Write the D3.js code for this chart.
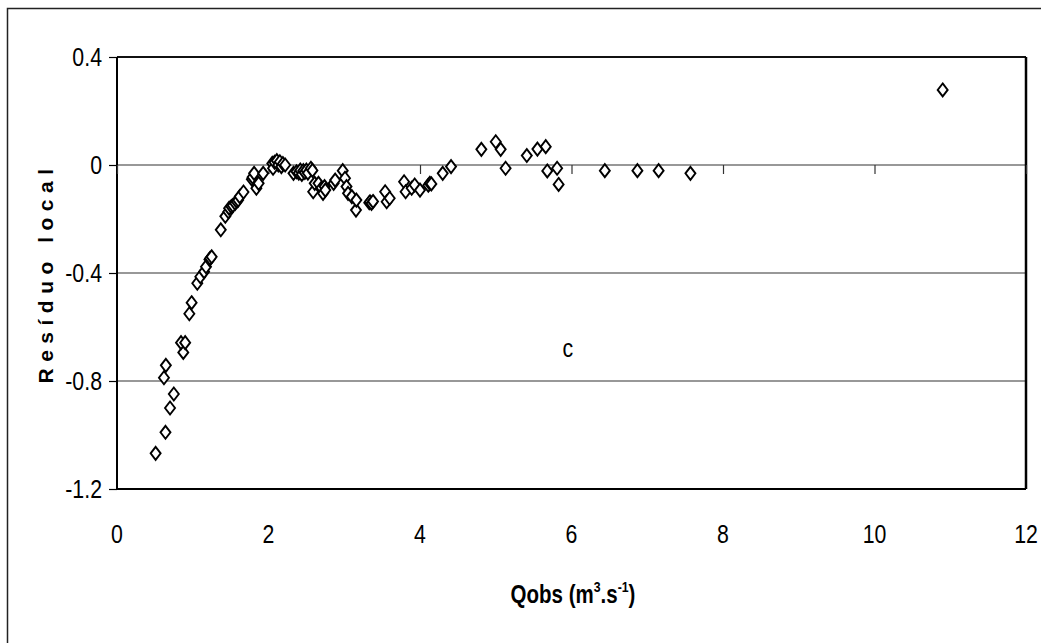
<!DOCTYPE html>
<html>
<head>
<meta charset="utf-8">
<script src="https://cdn.jsdelivr.net/npm/d3@7"></script>
<style>
  html, body { margin: 0; padding: 0; background: #fff; }
  svg { display: block; }
  .narrow { font-family: "Liberation Sans", Arial, sans-serif; font-size: 26px; fill: #000; }
</style>
</head>
<body>
<svg id="chart" width="1041" height="643"></svg>
<script>
// Observed discharge (m3/s) and local residual
const qobs = [
  0.51, 0.64, 0.70, 0.75, 0.62, 0.645, 0.875, 0.845, 0.90, 0.955,
  0.985, 1.06, 1.10, 1.15, 1.175, 1.22, 1.23, 1.25, 1.37, 1.43,
  1.47, 1.48, 1.51, 1.53, 1.56, 1.58, 1.60, 1.62, 1.67, 1.78,
  1.79, 1.81, 1.84, 1.87, 1.93, 2.05, 2.06, 2.08, 2.11, 2.13,
  2.15, 2.17, 2.19, 2.22, 2.33, 2.37, 2.40, 2.42, 2.44, 2.46,
  2.48, 2.50, 2.52, 2.56, 2.58, 2.59, 2.61, 2.66, 2.70, 2.72,
  2.74, 2.75, 2.86, 2.88, 2.98, 3.01, 3.03, 3.05, 3.10, 3.155,
  3.16, 3.33, 3.34, 3.36, 3.38, 3.54, 3.56, 3.60, 3.79, 3.81,
  3.89, 3.93, 4.00, 4.11, 4.13, 4.15, 4.30, 4.41, 4.81, 5.00,
  5.065, 5.13, 5.41, 5.55, 5.66, 5.68, 5.81, 5.83, 6.44, 6.87,
  7.15, 7.57, 10.9
];
const residuo = [
  -1.068, -0.99, -0.90, -0.848, -0.788, -0.742, -0.694, -0.658, -0.658, -0.551,
  -0.51, -0.438, -0.414, -0.395, -0.377, -0.35, -0.346, -0.34, -0.24, -0.19,
  -0.173, -0.16, -0.154, -0.15, -0.142, -0.135, -0.13, -0.117, -0.10, -0.053,
  -0.045, -0.031, -0.086, -0.068, -0.031, 0.006, -0.012, 0.01, 0.016, 0.0,
  0.012, -0.006, 0.005, 0.0, -0.031, -0.025, -0.03, -0.019, -0.035, -0.021,
  -0.028, -0.019, -0.03, -0.012, -0.02, -0.099, -0.068, -0.068, -0.085, -0.105,
  -0.08, -0.093, -0.068, -0.056, -0.021, -0.049, -0.08, -0.105, -0.117, -0.167,
  -0.13, -0.14, -0.136, -0.142, -0.135, -0.099, -0.136, -0.123, -0.062, -0.099,
  -0.086, -0.074, -0.093, -0.075, -0.068, -0.07, -0.031, -0.006, 0.058, 0.086,
  0.058, -0.012, 0.035, 0.059, 0.068, -0.022, -0.012, -0.072, -0.021, -0.021,
  -0.021, -0.031, 0.278
];
const xTicks = [0, 2, 4, 6, 8, 10, 12];
const yTicks = [0.4, 0, -0.4, -0.8, -1.2];
const yTickLabels = ["0.4", "0", "-0.4", "-0.8", "-1.2"];
const gridValues = [0, -0.4, -0.8];

const svg = d3.select("#chart");
const squeeze = 0.82; // condensed lettering

// Outer frame (extends past the right and bottom edges)
svg.append("rect")
  .attr("x", 7.5).attr("y", 8.5)
  .attr("width", 1100).attr("height", 700)
  .attr("fill", "none").attr("stroke", "#222").attr("stroke-width", 1.5);

const plotLeft = 117, plotRight = 1026, plotTop = 57, plotBottom = 489;
const x = d3.scaleLinear().domain([0, 12]).range([plotLeft, plotRight]);
const y = d3.scaleLinear().domain([-1.2, 0.4]).range([plotBottom, plotTop]);

// Horizontal gridlines
svg.append("g").selectAll("line").data(gridValues).join("line")
  .attr("x1", plotLeft).attr("x2", plotRight)
  .attr("y1", d => y(d)).attr("y2", d => y(d))
  .attr("stroke", "#333").attr("stroke-width", 1.2);

// Plot box
svg.append("line").attr("x1", plotLeft).attr("x2", plotRight).attr("y1", plotTop).attr("y2", plotTop)
  .attr("stroke", "#111").attr("stroke-width", 1.8);
svg.append("line").attr("x1", plotRight).attr("x2", plotRight).attr("y1", plotTop).attr("y2", plotBottom)
  .attr("stroke", "#000").attr("stroke-width", 2.5);
svg.append("line").attr("x1", plotLeft).attr("x2", plotRight).attr("y1", plotBottom).attr("y2", plotBottom)
  .attr("stroke", "#000").attr("stroke-width", 2);

// Y axis: line and outward ticks from the axis generator, labels drawn condensed
const yAxis = d3.axisLeft(y).tickValues(yTicks).tickSize(8).tickFormat("");
const yg = svg.append("g").attr("transform", `translate(${plotLeft},0)`).call(yAxis);
yg.select(".domain").attr("stroke", "#000").attr("stroke-width", 2).attr("d", `M0,${plotTop}V${plotBottom}`);
yg.selectAll(".tick line").attr("stroke", "#000").attr("stroke-width", 1.2);

svg.append("g").selectAll("g").data(yTicks).join("g")
  .attr("transform", d => `translate(102,${y(d) + 9}) scale(${squeeze},1)`)
  .append("text").attr("class", "narrow")
  .attr("text-anchor", "end")
  .text((d, i) => yTickLabels[i]);

// X axis crossing at zero, ticks hanging below it; labels placed at the bottom
const xAxis = d3.axisBottom(x).tickValues(xTicks).tickSize(9).tickFormat("");
const xg = svg.append("g").attr("transform", `translate(0,${y(0)})`).call(xAxis);
xg.select(".domain").remove();
xg.selectAll(".tick line").attr("stroke", "#333").attr("stroke-width", 1.2);

svg.append("g").selectAll("g").data(xTicks).join("g")
  .attr("transform", d => `translate(${x(d)},543) scale(${squeeze},1)`)
  .append("text").attr("class", "narrow")
  .attr("text-anchor", "middle")
  .text(d => d);

// Points: open diamonds
const diamond = "M0,-6.5L5,0L0,6.5L-5,0Z";
svg.append("g").selectAll("path").data(qobs.map((q, i) => [q, residuo[i]])).join("path")
  .attr("d", diamond)
  .attr("transform", d => `translate(${x(d[0])},${y(d[1])})`)
  .attr("fill", "#fff").attr("stroke", "#000").attr("stroke-width", 1.9);

// Panel letter
svg.append("g").attr("transform", `translate(${x(5.95)},${y(-0.68) + 8}) scale(${squeeze},1)`)
  .append("text").attr("class", "narrow")
  .attr("text-anchor", "middle").text("c");

// Axis titles
const xt = svg.append("g").attr("transform", `translate(573,603) scale(${squeeze},1)`)
  .append("text")
  .attr("text-anchor", "middle")
  .attr("font-family", "'Liberation Sans', Arial, sans-serif")
  .attr("font-weight", "bold").attr("font-size", 25);
xt.append("tspan").text("Qobs (m");
xt.append("tspan").attr("font-size", 15).attr("dy", -11).text("3");
xt.append("tspan").attr("dy", 11).text(".s");
xt.append("tspan").attr("font-size", 15).attr("dy", -11).text("-1");
xt.append("tspan").attr("dy", 11).text(")");

svg.append("text")
  .attr("transform", `translate(53,${(plotTop + plotBottom) / 2}) rotate(-90)`)
  .attr("text-anchor", "middle")
  .attr("font-family", "'Liberation Sans', Arial, sans-serif")
  .attr("font-weight", "bold").attr("font-size", 21)
  .attr("letter-spacing", 6.5)
  .text("Resíduo local");
</script>
</body>
</html>
